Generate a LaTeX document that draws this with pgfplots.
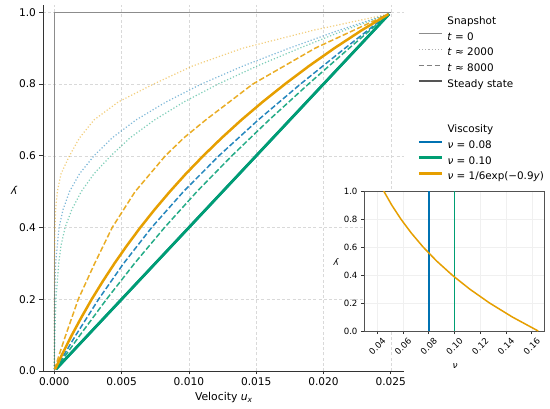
\documentclass[border=0pt]{standalone}
\usepackage{fontspec}
\setmainfont{DejaVu Sans}
\usepackage{pgfplots}
\pgfplotsset{compat=1.18}
\definecolor{cblue}{HTML}{0072B2}
\definecolor{cgreen}{HTML}{009E73}
\definecolor{corange}{HTML}{E69F00}
\definecolor{spine}{HTML}{333333}
\definecolor{tzero}{HTML}{8C8C8C}
\definecolor{steadyg}{HTML}{555555}

\begin{document}
\begin{tikzpicture}[x=1pt,y=1pt]
\useasboundingbox (0,0) rectangle (550,-409);
\begin{axis}[
  at={(43pt,-371pt)}, anchor=south west,
  scale only axis, width=361pt, height=366pt,
  xmin=-0.00084, xmax=0.02598, ymin=0, ymax=1.0204,
  axis x line*=bottom, axis y line*=left,
  axis line style={spine, line width=0.8pt, -},
  xtick={0,0.005,0.01,0.015,0.02,0.025},
  ytick={0,0.2,0.4,0.6,0.8,1.0},
  scaled x ticks=false,
  xticklabel style={/pgf/number format/fixed, /pgf/number format/fixed zerofill, /pgf/number format/precision=3},
  yticklabel style={/pgf/number format/fixed, /pgf/number format/fixed zerofill, /pgf/number format/precision=1},
  /pgf/number format/assume math mode=true,
  tick align=outside, major tick length=3.5pt,
  tick style={spine, line width=0.8pt},
  ticklabel style={font=\fontsize{10.6}{12}\selectfont},
  grid=major, grid style={gray!30, line width=0.5pt, dash pattern=on 3pt off 2.2pt},
  xlabel={Velocity \textit{u}\textsubscript{\textit{x}}},
  ylabel={\textit{y}},
  label style={font=\fontsize{10.8}{12}\selectfont},
  xlabel style={at={(axis description cs:0.501,-0.0738)}, anchor=center},
  ylabel style={at={(axis description cs:-0.081,0.4945)}, anchor=center, rotate=90},
  legend style={at={(axis description cs:1.0371,0.9768)}, anchor=north west,
    draw=none, fill=none, font=\fontsize{10.4}{12}\selectfont,
    row sep=0pt, inner sep=0pt, column sep=0pt,
    nodes={inner sep=2.6pt, text height=8.1pt, text depth=2.5pt}},
  legend cell align=left,
  legend image code/.code={\path (0pt,0pt) (24.8pt,0pt); \draw[#1] (0pt,3.6pt) -- (23pt,3.6pt);},
]
\addlegendimage{empty legend}
\addlegendentry{Snapshot}
\addlegendimage{tzero, line width=1.2pt}
\addlegendentry{\textit{t} = 0}
\addlegendimage{tzero!70, line width=1.2pt, dash pattern=on 1.2pt off 2pt}
\addlegendentry{\textit{t} ≈ 2000}
\addlegendimage{gray, line width=1.5pt, dash pattern=on 5.5pt off 2.4pt}
\addlegendentry{\textit{t} ≈ 8000}
\addlegendimage{steadyg, line width=2.5pt}
\addlegendentry{Steady state}

% t = 0
\addplot[forget plot, tzero, line width=1.2pt] coordinates {(0,0) (0,1) (0.025,1)};

% t ~ 2000 (dotted)
\addplot[forget plot, corange, draw opacity=0.5, line width=1.2pt, dash pattern=on 1.2pt off 2pt] coordinates {
(0,0.005) (0.0000025,0.2) (0.0000125,0.3) (0.00005,0.4) (0.0001,0.45) (0.000225,0.5)
(0.0005,0.55) (0.001125,0.6) (0.001875,0.65) (0.00295,0.7) (0.00475,0.75) (0.007375,0.8)
(0.01025,0.85) (0.014,0.9) (0.01925,0.95) (0.024825,0.995)};
\addplot[forget plot, cblue, draw opacity=0.5, line width=1.2pt, dash pattern=on 1.2pt off 2pt] coordinates {
(0,0.005) (0.0000125,0.1) (0.000025,0.2) (0.0001,0.3) (0.00035,0.4) (0.00065,0.45)
(0.001125,0.5) (0.001875,0.55) (0.00295,0.6) (0.0043,0.65) (0.006075,0.7) (0.0083,0.75)
(0.010925,0.8) (0.014,0.85) (0.01745,0.9) (0.02115,0.95) (0.024825,0.995)};
\addplot[forget plot, cgreen, draw opacity=0.5, line width=1.2pt, dash pattern=on 1.2pt off 2pt] coordinates {
(0,0.005) (0.0000375,0.1) (0.000125,0.2) (0.000325,0.3) (0.0005,0.35) (0.0008,0.4)
(0.0013,0.45) (0.002,0.5) (0.00295,0.55) (0.0042,0.6) (0.005625,0.65) (0.00745,0.7)
(0.009625,0.75) (0.012175,0.8) (0.01505,0.85) (0.018225,0.9) (0.02155,0.95) (0.024825,0.995)};

% t ~ 8000 (dashed)
\addplot[forget plot, corange, draw opacity=0.85, line width=1.5pt, dash pattern=on 5.5pt off 2.4pt] coordinates {
(0.000025,0.005) (0.0004,0.05) (0.00085,0.1) (0.00178,0.2) (0.003,0.3) (0.0043,0.4)
(0.006,0.5) (0.00825,0.6) (0.009625,0.65) (0.01125,0.7) (0.013,0.75) (0.01475,0.8)
(0.01938,0.9) (0.02483,0.995)};
\addplot[forget plot, cblue, draw opacity=0.85, line width=1.5pt, dash pattern=on 5.5pt off 2.4pt] coordinates {
(0.00008,0.005) (0.0016,0.1) (0.00329,0.2) (0.00515,0.3) (0.00723,0.4) (0.00959,0.5)
(0.01223,0.6) (0.01515,0.7) (0.01829,0.8) (0.0216,0.9) (0.02483,0.995)};
\addplot[forget plot, cgreen, draw opacity=0.85, line width=1.5pt, dash pattern=on 5.5pt off 2.4pt] coordinates {
(0.000095,0.005) (0.00191,0.1) (0.00388,0.2) (0.00596,0.3) (0.00819,0.4) (0.01059,0.5)
(0.01319,0.6) (0.01596,0.7) (0.01888,0.8) (0.02191,0.9) (0.02485,0.995)};

% steady state
\addplot[forget plot, cblue, line width=2.5pt] coordinates {(0.000125,0.005) (0.024875,0.995)};
\addplot[forget plot, cgreen, line width=2.7pt] coordinates {(0.000125,0.005) (0.024875,0.995)};
\addplot[forget plot, corange, line width=2.5pt] coordinates {
(0.00006,0.005) (0.00063,0.05) (0.0013,0.1) (0.00202,0.15) (0.00278,0.2) (0.0036,0.25)
(0.00447,0.3) (0.0054,0.35) (0.00639,0.4) (0.00745,0.45) (0.00858,0.5) (0.00978,0.55)
(0.01107,0.6) (0.01244,0.65) (0.0139,0.7) (0.01547,0.75) (0.01714,0.8) (0.01891,0.85)
(0.02081,0.9) (0.02284,0.95) (0.02483,0.995)};
\end{axis}

\begin{axis}[
  at={(364pt,-331pt)}, anchor=south west,
  scale only axis, width=180pt, height=140pt,
  xmin=0.0297, xmax=0.1695, ymin=0, ymax=1,
  axis background/.style={fill=white},
  axis line style={spine!85, line width=1pt},
  xtick={0.04,0.06,0.08,0.10,0.12,0.14,0.16},
  ytick={0,0.2,0.4,0.6,0.8,1.0},
  scaled x ticks=false,
  xticklabel style={/pgf/number format/fixed, /pgf/number format/fixed zerofill, /pgf/number format/precision=2},
  yticklabel style={/pgf/number format/fixed, /pgf/number format/fixed zerofill, /pgf/number format/precision=1},
  /pgf/number format/assume math mode=true,
  tick pos=left,
  tick align=outside, major tick length=3pt,
  tick style={spine, line width=0.8pt},
  ticklabel style={font=\fontsize{8.6}{10}\selectfont},
  xticklabel style={anchor=center, yshift=-12.5pt, rotate=45},
  grid=major, grid style={gray!12, line width=0.5pt},
  xlabel={\textit{ν}}, ylabel={\textit{y}},
  label style={font=\fontsize{9}{11}\selectfont},
  xlabel style={at={(axis description cs:0.506,-0.25)}, anchor=center},
  ylabel style={at={(axis description cs:-0.156,0.493)}, anchor=center, rotate=90},
  legend style={at={(axis description cs:0.2967,1.4964)}, anchor=north west,
    draw=none, fill=none, font=\fontsize{10.4}{12}\selectfont,
    row sep=0pt, inner sep=0pt, column sep=0pt,
    nodes={inner sep=2.6pt, text height=8.1pt, text depth=2.5pt}},
  legend cell align=left,
  legend image code/.code={\path (0pt,0pt) (24.8pt,0pt); \draw[#1] (0pt,3.6pt) -- (23pt,3.6pt);},
]
\addlegendimage{empty legend}
\addlegendentry{Viscosity}
\addlegendimage{cblue, line width=2.5pt}
\addlegendentry{\textit{ν} = 0.08}
\addlegendimage{cgreen, line width=2.5pt}
\addlegendentry{\textit{ν} = 0.10}
\addlegendimage{corange, line width=2.5pt}
\addlegendentry{\textit{ν} = 1/6exp(−0.9\textit{y})}

\addplot[forget plot, cblue, line width=1.8pt] coordinates {(0.08,0) (0.08,1)};
\addplot[forget plot, cgreen, line width=1.8pt] coordinates {(0.10,0) (0.10,1)};
\addplot[forget plot, corange, line width=1.5pt] coordinates {
(0.165,0) (0.1449,0.1) (0.1272,0.2) (0.1117,0.3) (0.0981,0.4) (0.0861,0.5)
(0.0756,0.6) (0.0664,0.7) (0.0583,0.8) (0.0512,0.9) (0.0450,1.0)};
\end{axis}
\end{tikzpicture}
\end{document}
